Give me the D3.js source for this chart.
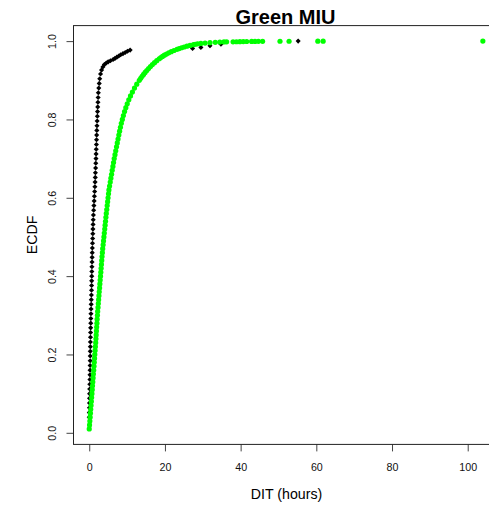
<!DOCTYPE html>
<html>
<head>
<meta charset="utf-8">
<script src="https://cdn.jsdelivr.net/npm/d3@7/dist/d3.min.js"></script>
<style>
  html, body { margin: 0; padding: 0; background: #fff; }
  svg { display: block; font-family: "Liberation Sans", Arial, Helvetica, sans-serif; }
</style>
</head>
<body>
<svg id="chart" width="489" height="510"></svg>
<script>
// Empirical CDF points (DIT in hours, cumulative proportion) for the two groups.
const blackDIT = [
  0.00, 0.02, 0.04, 0.06, 0.08, 0.10, 0.12, 0.15, 0.18, 0.20,
  0.22, 0.23, 0.25, 0.26, 0.27, 0.29, 0.30, 0.33, 0.35, 0.37,
  0.40, 0.42, 0.45, 0.48, 0.51, 0.54, 0.57, 0.60, 0.62, 0.64,
  0.66, 0.69, 0.71, 0.74, 0.76, 0.79, 0.82, 0.86, 0.90, 0.94,
  0.97, 1.01, 1.05, 1.10, 1.17, 1.23, 1.30, 1.36, 1.43, 1.49,
  1.54, 1.59, 1.63, 1.68, 1.73, 1.78, 1.81, 1.85, 1.89, 1.93,
  1.96, 2.00, 2.04, 2.09, 2.14, 2.19, 2.24, 2.30, 2.35, 2.40,
  2.52, 2.64, 2.77, 2.98, 3.25, 3.60, 4.00, 4.50, 5.00, 5.60,
  6.30, 6.80, 7.30, 7.80, 8.30, 8.90, 9.50, 10.10, 10.80,
  27.30, 29.50, 31.90, 34.80, 55.20
];
const blackECDF = [
  0.040, 0.052, 0.064, 0.076, 0.088, 0.100, 0.112, 0.124, 0.136, 0.148,
  0.160, 0.172, 0.184, 0.196, 0.208, 0.220, 0.232, 0.244, 0.256, 0.268,
  0.280, 0.292, 0.304, 0.316, 0.328, 0.340, 0.352, 0.364, 0.376, 0.388,
  0.400, 0.412, 0.424, 0.436, 0.448, 0.460, 0.472, 0.484, 0.496, 0.508,
  0.520, 0.532, 0.544, 0.556, 0.568, 0.580, 0.592, 0.604, 0.616, 0.628,
  0.640, 0.652, 0.664, 0.676, 0.688, 0.700, 0.712, 0.724, 0.736, 0.748,
  0.760, 0.772, 0.784, 0.796, 0.808, 0.820, 0.832, 0.844, 0.856, 0.868,
  0.880, 0.892, 0.904, 0.916, 0.926, 0.934, 0.940, 0.944, 0.947, 0.950,
  0.953, 0.956, 0.959, 0.962, 0.965, 0.968, 0.971, 0.974, 0.977,
  0.981, 0.984, 0.988, 0.992, 1.000
];

const greenDIT = [
  0.00, 0.08, 0.16, 0.24, 0.31, 0.39, 0.47, 0.55, 0.63, 0.71,
  0.79, 0.86, 0.94, 1.02, 1.10, 1.17, 1.25, 1.32, 1.40, 1.47,
  1.55, 1.62, 1.70, 1.77, 1.83, 1.90, 1.96, 2.03, 2.09, 2.16,
  2.23, 2.32, 2.40, 2.48, 2.56, 2.64, 2.73, 2.81, 2.89, 2.97,
  3.06, 3.14, 3.22, 3.30, 3.38, 3.47, 3.56, 3.67, 3.77, 3.88,
  3.98, 4.09, 4.19, 4.30, 4.40, 4.51, 4.63, 4.74, 4.86, 4.97,
  5.09, 5.20, 5.37, 5.55, 5.72, 5.90, 6.07, 6.25, 6.42, 6.60,
  6.80, 7.00, 7.21, 7.41, 7.61, 7.82, 8.02, 8.24, 8.48, 8.74,
  9.02, 9.33, 9.67, 10.04, 10.45, 10.90, 11.40, 11.95, 12.56, 13.23,
  13.59, 13.96, 14.35, 14.76, 15.20, 15.67, 16.17, 16.69, 17.24, 17.84,
  18.49, 18.91, 19.36, 19.86, 20.41, 21.01, 21.67, 22.39, 23.19,
  23.77, 24.39, 25.07, 25.81, 26.63, 27.53, 28.03,
  28.63, 29.50, 30.60, 31.90, 33.30, 34.50, 35.60, 36.30,
  38.00, 38.90, 39.80, 40.70, 41.60, 42.90, 43.80, 44.70, 45.80,
  50.40, 52.80, 60.40, 61.80, 104.00
];
const greenECDF = [
  0.010, 0.020, 0.030, 0.040, 0.050, 0.060, 0.070, 0.080, 0.090, 0.100,
  0.110, 0.120, 0.130, 0.140, 0.150, 0.160, 0.170, 0.180, 0.190, 0.200,
  0.210, 0.220, 0.230, 0.240, 0.250, 0.260, 0.270, 0.280, 0.290, 0.300,
  0.310, 0.320, 0.330, 0.340, 0.350, 0.360, 0.370, 0.380, 0.390, 0.400,
  0.410, 0.420, 0.430, 0.440, 0.450, 0.460, 0.470, 0.480, 0.490, 0.500,
  0.510, 0.520, 0.530, 0.540, 0.550, 0.560, 0.570, 0.580, 0.590, 0.600,
  0.610, 0.620, 0.630, 0.640, 0.650, 0.660, 0.670, 0.680, 0.690, 0.700,
  0.710, 0.720, 0.730, 0.740, 0.750, 0.760, 0.770, 0.780, 0.790, 0.800,
  0.810, 0.820, 0.830, 0.840, 0.850, 0.860, 0.870, 0.880, 0.890, 0.900,
  0.905, 0.910, 0.915, 0.920, 0.925, 0.930, 0.935, 0.940, 0.945, 0.950,
  0.955, 0.958, 0.961, 0.964, 0.967, 0.970, 0.973, 0.976, 0.979,
  0.981, 0.983, 0.985, 0.987, 0.989, 0.991, 0.992,
  0.993, 0.994, 0.995, 0.996, 0.997, 0.9975, 0.9980, 0.9981,
  0.9982, 0.9984, 0.9986, 0.9988, 0.9990, 0.9992, 0.9993, 0.9994, 0.9995,
  0.9996, 0.9997, 0.9998, 0.9999, 1.000
];

const xTicks = [0, 20, 40, 60, 80, 100];
const yTicks = [0.0, 0.2, 0.4, 0.6, 0.8, 1.0];
const titleText = "Green MIU";
const xLabel = "DIT (hours)";
const yLabel = "ECDF";

const svg = d3.select("#chart");

// Axis limits extend the data range by 4% on each side.
const allX = blackDIT.concat(greenDIT);
const allY = blackECDF.concat(greenECDF);
const xExt = d3.extent(allX), yExt = d3.extent(allY);
const xPad = (xExt[1] - xExt[0]) * 0.04, yPad = (yExt[1] - yExt[0]) * 0.04;

const plot = { left: 73.5, right: 498.6, top: 25.6, bottom: 444.4 };

const x = d3.scaleLinear()
  .domain([xExt[0] - xPad, xExt[1] + xPad])
  .range([plot.left, plot.right]);
const y = d3.scaleLinear()
  .domain([yExt[0] - yPad, yExt[1] + yPad])
  .range([plot.bottom, plot.top]);

const fmt = d3.format(".1f");

// X axis
const xAxis = svg.append("g")
  .attr("transform", `translate(0,${plot.bottom})`)
  .call(d3.axisBottom(x).tickValues(xTicks).tickSize(7).tickSizeOuter(0).tickFormat(d3.format("d")));
xAxis.select(".domain").remove();
xAxis.selectAll(".tick line").attr("stroke", "#444");
xAxis.selectAll(".tick text")
  .attr("y", 26.5).attr("dy", null)
  .attr("fill", "#111")
  .style("font-size", "10.7px");

// Y axis with vertical labels
const yAxis = svg.append("g")
  .attr("transform", `translate(${plot.left},0)`)
  .call(d3.axisLeft(y).tickValues(yTicks).tickSize(7).tickSizeOuter(0).tickFormat(fmt));
yAxis.select(".domain").remove();
yAxis.selectAll(".tick line").attr("stroke", "#444");
yAxis.selectAll(".tick text")
  .attr("x", null).attr("dy", null)
  .attr("text-anchor", "middle")
  .attr("transform", "translate(-17.6,0) rotate(-90)")
  .attr("fill", "#111")
  .style("font-size", "10.7px");

// Plot frame
svg.append("rect")
  .attr("x", plot.left).attr("y", plot.top)
  .attr("width", plot.right - plot.left).attr("height", plot.bottom - plot.top)
  .attr("fill", "none").attr("stroke", "#222").attr("stroke-width", 1);

// Black group: filled diamonds
const black = blackDIT.map((v, i) => ({ x: v, y: blackECDF[i] }));
const diamond = d3.symbol().type(d3.symbolSquare).size(13);
svg.append("g").selectAll("path")
  .data(black).join("path")
  .attr("d", diamond)
  .attr("transform", d => `translate(${x(d.x)},${y(d.y)}) rotate(45)`)
  .attr("fill", "#000");

// Green group: filled dots
const green = greenDIT.map((v, i) => ({ x: v, y: greenECDF[i] }));
svg.append("g").selectAll("circle")
  .data(green).join("circle")
  .attr("cx", d => x(d.x))
  .attr("cy", d => y(d.y))
  .attr("r", 2.6)
  .attr("fill", "#00ff00");

// Titles
svg.append("text")
  .attr("x", 285.5).attr("y", 23.5)
  .attr("text-anchor", "middle")
  .style("font-size", "20px").style("font-weight", "bold")
  .text(titleText);

svg.append("text")
  .attr("x", 286.5).attr("y", 499)
  .attr("text-anchor", "middle")
  .style("font-size", "14.2px")
  .text(xLabel);

svg.append("text")
  .attr("transform", `translate(37,235) rotate(-90)`)
  .attr("text-anchor", "middle")
  .style("font-size", "14.2px")
  .text(yLabel);
</script>
</body>
</html>
